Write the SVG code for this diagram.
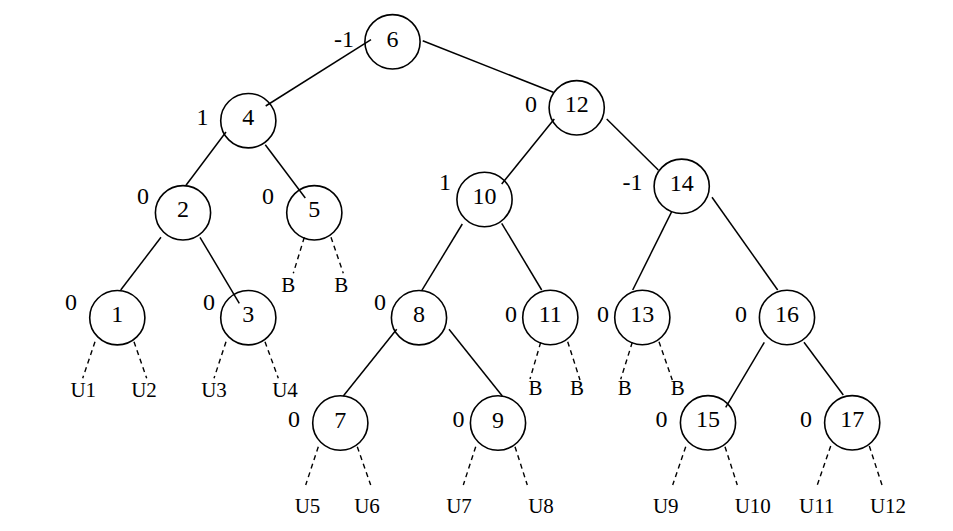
<svg xmlns="http://www.w3.org/2000/svg" width="953" height="531" viewBox="0 0 953 531">
<style>
.n{fill:none;stroke:#000;stroke-width:1.6}
.e{stroke:#000;stroke-width:1.5;fill:none}
.d{stroke:#000;stroke-width:1.4;fill:none;stroke-dasharray:5,4}
.t{font-family:"Liberation Serif","Times New Roman",serif;font-size:24px;text-anchor:middle;fill:#000}
.b{font-family:"Liberation Serif","Times New Roman",serif;font-size:24px;text-anchor:middle;fill:#000}
.l{font-family:"Liberation Serif","Times New Roman",serif;font-size:21px;text-anchor:middle;fill:#000}
</style>
<rect width="953" height="531" fill="#fff"/>
<g id="connectors">
<line class="e" x1="371" y1="39.7" x2="265.7" y2="106"/>
<line class="e" x1="422.7" y1="40.7" x2="553.3" y2="92.3"/>
<line class="e" x1="226" y1="132" x2="186" y2="185.3"/>
<line class="e" x1="265.3" y1="144.7" x2="305.3" y2="198"/>
<line class="e" x1="554.3" y1="119" x2="501.7" y2="184"/>
<line class="e" x1="606.7" y1="119" x2="658.3" y2="170"/>
<line class="e" x1="161" y1="237.3" x2="120.7" y2="290"/>
<line class="e" x1="200" y1="237.3" x2="239.3" y2="303.3"/>
<line class="e" x1="462.3" y1="224" x2="421.7" y2="290.7"/>
<line class="e" x1="501.7" y1="223.3" x2="541.7" y2="290"/>
<line class="e" x1="671.7" y1="211.7" x2="632.7" y2="290"/>
<line class="e" x1="712" y1="197.3" x2="777.7" y2="290"/>
<line class="e" x1="396.7" y1="329.3" x2="343.3" y2="396"/>
<line class="e" x1="449" y1="329.3" x2="502.3" y2="396"/>
<line class="e" x1="764.3" y1="342.3" x2="725.7" y2="407.3"/>
<line class="e" x1="804" y1="342.3" x2="843.3" y2="395"/>
<line class="d" x1="304.3" y1="237.3" x2="293.3" y2="273.3"/>
<line class="d" x1="331" y1="237.3" x2="343.3" y2="273.3"/>
<line class="d" x1="95" y1="341.7" x2="82.7" y2="378.3"/>
<line class="d" x1="134" y1="341.7" x2="146.7" y2="378.3"/>
<line class="d" x1="226" y1="341.7" x2="214" y2="378.3"/>
<line class="d" x1="265" y1="341.7" x2="278.3" y2="378.3"/>
<line class="d" x1="540.7" y1="342.3" x2="530" y2="379"/>
<line class="d" x1="567.7" y1="341.7" x2="580" y2="380"/>
<line class="d" x1="632.3" y1="342.3" x2="620.7" y2="379.3"/>
<line class="d" x1="659" y1="341.7" x2="672.3" y2="380"/>
<line class="d" x1="318.3" y1="446.7" x2="305.7" y2="485"/>
<line class="d" x1="357.3" y1="446.7" x2="370.7" y2="485"/>
<line class="d" x1="475.7" y1="446.7" x2="463.3" y2="485"/>
<line class="d" x1="515" y1="446.7" x2="527.3" y2="485"/>
<line class="d" x1="685.7" y1="446.7" x2="672.7" y2="485"/>
<line class="d" x1="725" y1="446.7" x2="737.3" y2="485"/>
<line class="d" x1="830.7" y1="446" x2="817.3" y2="485"/>
<line class="d" x1="869.3" y1="446" x2="882" y2="485"/>
</g>
<g id="node6"><ellipse class="n" cx="392.5" cy="41.8" rx="27.6" ry="27.2"/><text class="t" x="392.5" y="46.5">6</text><text class="b" x="344" y="47">-1</text></g>
<g id="node4"><ellipse class="n" cx="248.3" cy="120.7" rx="27.6" ry="27.2"/><text class="t" x="248.3" y="125.2">4</text><text class="b" x="202.5" y="125">1</text></g>
<g id="node12"><ellipse class="n" cx="576.7" cy="107.8" rx="27.6" ry="27.2"/><text class="t" x="576.7" y="112">12</text><text class="b" x="531" y="112">0</text></g>
<g id="node2"><ellipse class="n" cx="183" cy="212.8" rx="27.6" ry="27.2"/><text class="t" x="183" y="217.3">2</text><text class="b" x="143" y="204">0</text></g>
<g id="node5"><ellipse class="n" cx="314.3" cy="212.8" rx="27.6" ry="27.2"/><text class="t" x="314.3" y="217.3">5</text><text class="b" x="268" y="204">0</text></g>
<g id="node10"><ellipse class="n" cx="484.5" cy="199.5" rx="27.6" ry="27.2"/><text class="t" x="484.5" y="204">10</text><text class="b" x="445" y="190">1</text></g>
<g id="node14"><ellipse class="n" cx="681.7" cy="186.3" rx="27.6" ry="27.2"/><text class="t" x="681.7" y="190.8">14</text><text class="b" x="632.5" y="190">-1</text></g>
<g id="node1"><ellipse class="n" cx="117.3" cy="317.7" rx="27.6" ry="27.2"/><text class="t" x="117.3" y="322.2">1</text><text class="b" x="71" y="310">0</text></g>
<g id="node3"><ellipse class="n" cx="248.3" cy="317.7" rx="27.6" ry="27.2"/><text class="t" x="248.3" y="322.2">3</text><text class="b" x="209" y="310">0</text></g>
<g id="node8"><ellipse class="n" cx="419" cy="317.7" rx="27.6" ry="27.2"/><text class="t" x="419" y="322.2">8</text><text class="b" x="380" y="310">0</text></g>
<g id="node11"><ellipse class="n" cx="550.3" cy="317.5" rx="27.6" ry="27.2"/><text class="t" x="550.3" y="322">11</text><text class="b" x="511" y="322">0</text></g>
<g id="node13"><ellipse class="n" cx="642.3" cy="317.5" rx="27.6" ry="27.2"/><text class="t" x="642.3" y="322">13</text><text class="b" x="603" y="322">0</text></g>
<g id="node16"><ellipse class="n" cx="787" cy="317.5" rx="27.6" ry="27.2"/><text class="t" x="787" y="322">16</text><text class="b" x="741" y="322">0</text></g>
<g id="node7"><ellipse class="n" cx="340.3" cy="423" rx="27.6" ry="27.2"/><text class="t" x="340.3" y="427.5">7</text><text class="b" x="294" y="427">0</text></g>
<g id="node9"><ellipse class="n" cx="498" cy="423" rx="27.6" ry="27.2"/><text class="t" x="498" y="427.5">9</text><text class="b" x="458.5" y="427">0</text></g>
<g id="node15"><ellipse class="n" cx="708" cy="422.8" rx="27.6" ry="27.2"/><text class="t" x="708" y="427.3">15</text><text class="b" x="661.5" y="427">0</text></g>
<g id="node17"><ellipse class="n" cx="852.2" cy="422.8" rx="27.6" ry="27.2"/><text class="t" x="852.2" y="427.3">17</text><text class="b" x="806" y="427">0</text></g>
<g id="leaves">
<text class="l" x="288.3" y="291.7">B</text>
<text class="l" x="341.3" y="291.7">B</text>
<text class="l" x="83.3" y="396.5">U1</text>
<text class="l" x="144" y="396.5">U2</text>
<text class="l" x="214" y="396.5">U3</text>
<text class="l" x="285" y="396.5">U4</text>
<text class="l" x="535.5" y="395">B</text>
<text class="l" x="577" y="395">B</text>
<text class="l" x="624.7" y="395">B</text>
<text class="l" x="677.7" y="395">B</text>
<text class="l" x="307.5" y="513">U5</text>
<text class="l" x="367" y="513">U6</text>
<text class="l" x="459" y="513">U7</text>
<text class="l" x="541" y="513">U8</text>
<text class="l" x="665.8" y="513">U9</text>
<text class="l" x="752.8" y="513">U10</text>
<text class="l" x="816.8" y="513">U11</text>
<text class="l" x="888" y="513">U12</text>
</g>
</svg>
